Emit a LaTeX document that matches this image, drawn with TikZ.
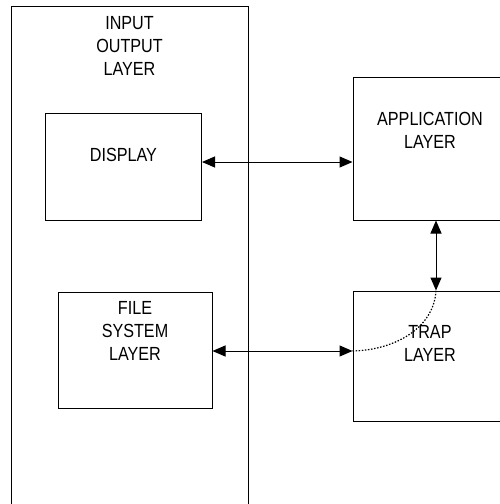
\documentclass[tikz,border=0pt]{standalone}
\usepackage{fontspec}
\setmainfont{Liberation Sans}[FakeStretch=0.85]
\usetikzlibrary{arrows.meta}
\begin{document}
\begin{tikzpicture}[x=1pt,y=-1pt,
  box/.style={draw,line width=1pt,rectangle,inner sep=0pt},
  lbl/.style={align=center,font=\fontsize{19}{23}\selectfont,inner sep=0pt},
  link/.style={line width=1pt,{Triangle[length=13pt,width=11pt]}-{Triangle[length=13pt,width=11pt]}},
  dots/.style={line width=1.2pt,dash pattern=on 1.5pt off 1.6pt}]
\useasboundingbox (0,0) rectangle (499,504);
% outer input/output layer box (runs past the bottom edge)
\node[box,minimum width=237pt,minimum height=509pt] (io) at (129.5,260.5) {};
\node[lbl] (iolbl) at (129.5,46) {INPUT\\OUTPUT\\LAYER};
% inner boxes
\node[box,minimum width=156pt,minimum height=107pt] (disp) at (123.5,166.5) {};
\node[lbl] (displbl) at (123.5,155) {DISPLAY};
\node[box,minimum width=154pt,minimum height=116pt] (fs) at (135,350) {};
\node[lbl] (fslbl) at (135,331) {FILE\\SYSTEM\\LAYER};
% right-hand layers (run past the right edge)
\node[box,minimum width=157pt,minimum height=143pt] (app) at (431.5,148.5) {};
\node[lbl] (applbl) at (430,130) {APPLICATION\\LAYER};
\node[box,minimum width=157pt,minimum height=130pt] (trap) at (431.5,356) {};
\node[lbl] (traplbl) at (430,343) {TRAP\\LAYER};
% connector guides
\coordinate (ya) at (0,162);
\coordinate (yb) at (0,351);
\coordinate (va) at (436,0);
% connectors
\draw[link] (disp.east |- ya) -- (app.west |- ya);
\draw[link] (fs.east |- yb) -- (trap.west |- yb);
\draw[link] (app.south -| va) -- (trap.north -| va);
\draw[dots] (trap.west |- yb) .. controls (395,350) and (434,328) .. (trap.north -| va);
\end{tikzpicture}
\end{document}
